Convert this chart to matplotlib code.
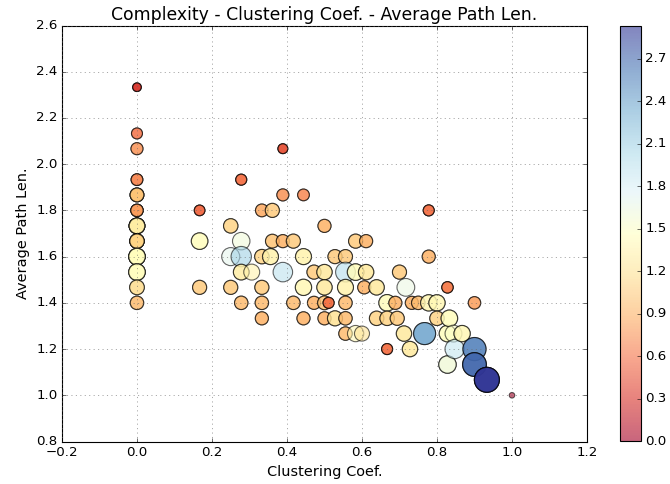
import matplotlib
matplotlib.use('Agg')
import matplotlib.pyplot as plt
import numpy as np

plt.style.use('classic')
plt.rcParams.update({'figure.facecolor': 'white', 'savefig.facecolor': 'white',
                     'font.size': 13, 'xtick.labelsize': 12, 'ytick.labelsize': 12})

# clustering coef., average path len., complexity, multiplicity (same point drawn again)
clust = [0, 0, 0, 0, 0, 0, 0, 0, 0, 0, 0, 0,
         0.167, 0.167, 0.167,
         0.25, 0.25, 0.25, 0.278, 0.278, 0.278, 0.278, 0.278, 0.306,
         0.333, 0.333, 0.333, 0.333, 0.333, 0.356, 0.361, 0.361,
         0.389, 0.389, 0.389, 0.389, 0.417, 0.417,
         0.444, 0.444, 0.444, 0.444, 0.472, 0.472,
         0.5, 0.5, 0.5, 0.5, 0.5, 0.511, 0.528, 0.528,
         0.556, 0.556, 0.556, 0.556, 0.556, 0.556,
         0.583, 0.583, 0.583, 0.6, 0.606, 0.611, 0.611,
         0.639, 0.639, 0.667, 0.667, 0.667, 0.689, 0.694, 0.7,
         0.717, 0.712, 0.728, 0.733, 0.75, 0.767,
         0.778, 0.778, 0.778, 0.8, 0.8,
         0.828, 0.828, 0.833, 0.828, 0.844, 0.847, 0.867,
         0.9, 0.9, 0.9, 0.933, 1.0]
path_len = [2.333, 2.133, 2.067, 1.933, 1.867, 1.8, 1.733, 1.667, 1.6, 1.533, 1.467, 1.4,
            1.8, 1.667, 1.467,
            1.733, 1.6, 1.467, 1.933, 1.667, 1.6, 1.533, 1.4, 1.533,
            1.8, 1.6, 1.467, 1.4, 1.333, 1.6, 1.8, 1.667,
            2.067, 1.867, 1.667, 1.533, 1.667, 1.4,
            1.867, 1.6, 1.467, 1.333, 1.533, 1.4,
            1.733, 1.533, 1.467, 1.4, 1.333, 1.4, 1.6, 1.333,
            1.6, 1.533, 1.467, 1.4, 1.333, 1.267,
            1.667, 1.533, 1.267, 1.267, 1.467, 1.667, 1.533,
            1.467, 1.333, 1.4, 1.333, 1.2, 1.4, 1.333, 1.533,
            1.467, 1.267, 1.2, 1.4, 1.4, 1.267,
            1.8, 1.6, 1.4, 1.4, 1.333,
            1.467, 1.267, 1.333, 1.133, 1.267, 1.2, 1.267,
            1.4, 1.2, 1.133, 1.067, 1.0]
complexity = [0.3, 0.6, 0.75, 0.7, 1.0, 0.8, 1.3, 1.1, 1.45, 1.45, 1.15, 0.95,
              0.55, 1.45, 1.05,
              1.1, 1.7, 1.05, 0.6, 1.6, 2.1, 1.3, 0.95, 1.35,
              0.85, 1.1, 1.05, 0.95, 0.9, 1.35, 1.05, 1.0,
              0.45, 0.75, 0.9, 1.95, 1.05, 0.95,
              0.7, 1.35, 1.4, 0.9, 1.05, 0.9,
              0.9, 1.25, 1.25, 1.0, 0.9, 0.6, 1.05, 1.2,
              1.05, 2.0, 1.35, 0.95, 0.95, 0.95,
              1.05, 1.45, 1.4, 1.2, 0.9, 0.9, 1.25,
              1.25, 1.1, 1.45, 1.1, 0.6, 0.9, 1.05, 1.05,
              1.65, 1.25, 1.25, 0.9, 0.95, 2.4,
              0.6, 0.9, 1.4, 1.4, 1.1,
              0.65, 1.45, 1.45, 1.6, 1.5, 1.9, 1.4,
              0.8, 2.6, 2.7, 2.93, 0.0]
count = [3, 2, 2, 3, 4, 4, 6, 5, 4, 3, 2, 2,
         3, 2, 2,
         2, 1, 2, 3, 1, 1, 2, 2, 1,
         2, 2, 2, 2, 2, 2, 2, 2,
         3, 2, 2, 1, 2, 2,
         2, 2, 2, 2, 2, 2,
         2, 2, 2, 2, 2, 3, 2, 2,
         2, 1, 2, 2, 2, 2,
         2, 2, 1, 1, 2, 2, 2,
         2, 2, 2, 2, 3, 2, 2, 2,
         1, 2, 2, 2, 2, 2,
         3, 2, 2, 2, 2,
         3, 2, 2, 2, 1, 1, 2,
         2, 2, 3, 4, 1]

x = np.repeat(clust, count)
y = np.repeat(path_len, count)
c = np.repeat(complexity, count)
sizes = 25 + 110 * c + 18 * c ** 2

fig = plt.figure(figsize=(670 / 80, 484 / 80), dpi=80)
ax = fig.add_axes([0.0925, 0.0878, 0.7836, 0.8595])
cax = fig.add_axes([0.9254, 0.0888, 0.0313, 0.857])

sc = ax.scatter(x, y, s=sizes, c=c, cmap='RdYlBu', vmin=0, vmax=2.93,
                alpha=0.6, edgecolors='k', linewidths=1)
ax.set_xlim(-0.2, 1.2)
ax.set_ylim(0.8, 2.6)
ax.grid(True, color='0.4')
ax.set_xlabel('Clustering Coef.')
ax.set_ylabel('Average Path Len.')
ax.set_title('Complexity - Clustering Coef. - Average Path Len.', fontsize=15.5)

cb = fig.colorbar(sc, cax=cax, ticks=np.arange(0, 2.8, 0.3))
cb.ax.set_yticklabels(['%.1f' % t for t in np.arange(0, 2.8, 0.3)])

fig.savefig('out.png', dpi=80)
